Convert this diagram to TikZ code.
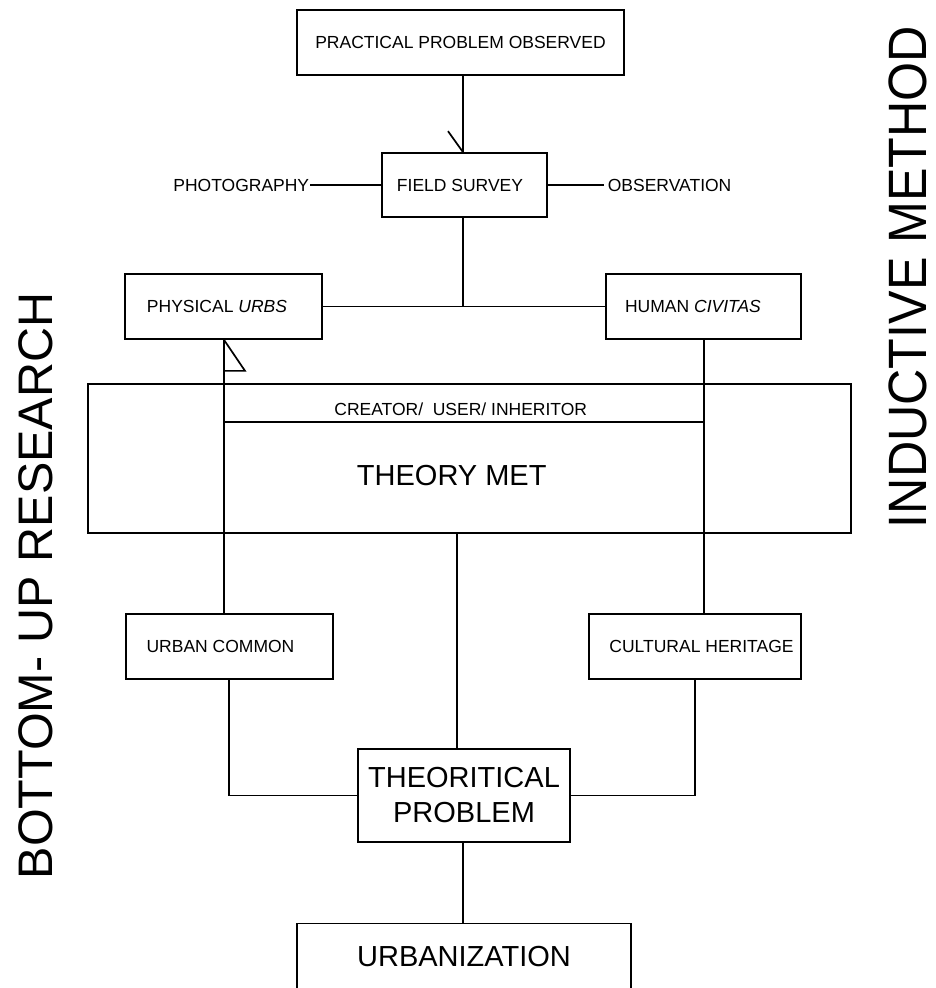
\documentclass[tikz,border=0pt]{standalone}
\usepackage{fontspec}
\setmainfont{Liberation Sans}
\newfontfamily\arialtall[FakeStretch=0.93]{Liberation Sans}
\newcommand\fsmall{\fontsize{17.5}{20}\selectfont}
\newcommand\fbig{\fontsize{29}{35}\selectfont}
\begin{document}
\begin{tikzpicture}[x=1pt,y=-1pt, line width=1.7pt,
  box/.style={draw, line width=1.7pt, inner sep=0pt, font=\fsmall},
  lbl/.style={inner sep=0pt, font=\fsmall},
  bigtxt/.style={inner sep=0pt, font=\fbig},
  sidetxt/.style={inner sep=0pt, rotate=90}]
\useasboundingbox (0,0) rectangle (935,988);
\fill[white] (0,0) rectangle (935,988);

% named coordinates for vertical line positions
\coordinate (xL) at (224,0);
\coordinate (xR) at (704,0);
\coordinate (xC) at (457,0);
\coordinate (xM) at (463,0);
\coordinate (xUC) at (229,0);
\coordinate (xCH) at (695,0);
\coordinate (cy) at (0,422);

% boxes
\node[box, minimum width=327pt, minimum height=65pt] (ppo) at (460.5,42.5) {PRACTICAL PROBLEM OBSERVED};
\node[box, minimum width=165pt, minimum height=64pt] (fs) at (464.5,185) {FIELD SURVEY\hspace*{9pt}};
\node[lbl, anchor=east] (photo) at (310,185) {PHOTOGRAPHY};
\node[lbl, inner xsep=3pt, anchor=west] (obs) at (604,185) {OBSERVATION};
\node[box, minimum width=197pt, minimum height=65pt] (phys) at (223.5,306.5) {PHYSICAL \textit{URBS}\hspace*{13pt}};
\node[box, minimum width=195pt, minimum height=65pt] (human) at (703.5,306.5) {HUMAN \textit{CIVITAS}\hspace*{21pt}};
\node[draw, line width=1.7pt, inner sep=0pt, minimum width=763pt, minimum height=149pt] (tmbox) at (469.5,458.5) {};
\node[lbl] (cui) at (460.75,409) {CREATOR/\hspace{0.55em}USER/ INHERITOR};
\node[bigtxt] (tmt) at (451.75,475.5) {THEORY MET};
\node[box, minimum width=207pt, minimum height=65pt] (uc) at (229.5,646.5) {URBAN COMMON\hspace*{18pt}};
\node[box, minimum width=212pt, minimum height=65pt] (ch) at (695,646.5) {\hspace*{13pt}CULTURAL HERITAGE};
\node[box, font=\fbig, align=center, minimum width=212pt, minimum height=93pt] (tp) at (464,795.5) {THEORITICAL\\PROBLEM};
\node[box, font=\fbig, minimum width=334pt, minimum height=66pt] (urb) at (464,956.5) {URBANIZATION};

% side texts
\node[sidetxt, font=\fontsize{48.5}{52}\selectfont] (bur) at (35.5,586) {BOTTOM- UP RESEARCH};
\node[sidetxt, font=\arialtall\fontsize{54}{58}\selectfont] (ind) at (908,277) {INDUCTIVE METHOD};

% connectors
\draw (ppo.south -| xM) -- (fs.north -| xM);
\draw (fs.north -| xM) -- ++(-15,-21);
\draw (fs.west) -- (photo.east);
\draw (fs.east) -- (obs.west);
\draw (fs.south -| xM) -- (xM |- phys.east);
\draw (phys.east) -- (human.west);
\draw (phys.south -| xL) -- ++(21,31) -- ++(-21,0);
\draw (phys.south -| xL) -- (uc.north -| xL);
\draw (human.south -| xR) -- (ch.north -| xR);
\draw (xL |- cy) -- (xR |- cy);
\draw (tmbox.south -| xC) -- (tp.north -| xC);
\draw (uc.south -| xUC) |- (tp.west);
\draw (ch.south -| xCH) |- (tp.east);
\draw (tp.south -| xM) -- (urb.north -| xM);
\end{tikzpicture}
\end{document}
